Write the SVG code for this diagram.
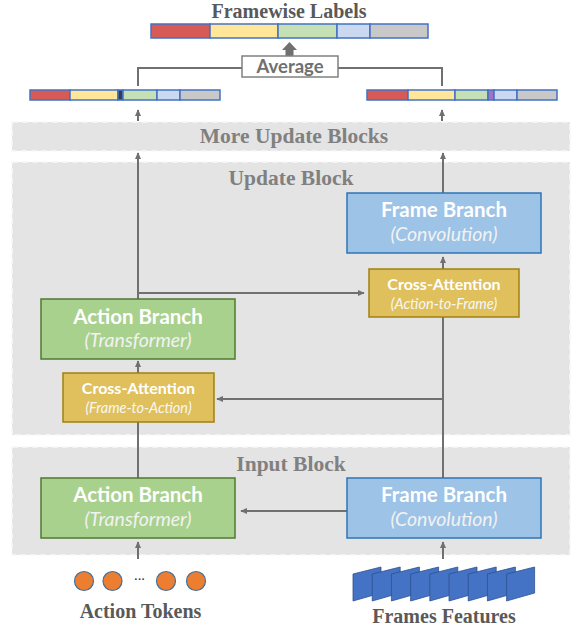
<svg xmlns="http://www.w3.org/2000/svg" width="572" height="628" viewBox="0 0 572 628">
<style>
.band{fill:#E4E4E4;stroke:#F7F7F7;stroke-width:1.5;stroke-dasharray:6 4}
.bt{font-family:"Liberation Serif",serif;font-weight:bold;font-size:21.5px;fill:#808080;text-anchor:middle}
.tt{font-family:"Liberation Serif",serif;font-weight:bold;font-size:20px;fill:#595959;text-anchor:middle}
.act{fill:#A9D18E;stroke:#4F7A30;stroke-width:1.5}
.frm{fill:#9DC3E6;stroke:#2E75B6;stroke-width:1.5}
.ca{fill:#DFC05C;stroke:#A08010;stroke-width:1.5}
.h1{font-family:Lato,"Open Sans",sans-serif;font-weight:bold;font-size:20.5px;fill:#FFFFFF;text-anchor:middle}
.h2{font-family:Lato,"Open Sans",sans-serif;font-style:italic;font-size:19.5px;fill:#F2F2F2;text-anchor:middle}
.c1{font-family:Lato,"Open Sans",sans-serif;font-weight:bold;font-size:16px;fill:#FFFFFF;text-anchor:middle}
.c2{font-family:Lato,"Open Sans",sans-serif;font-style:italic;font-size:14.5px;fill:#F7F7F7;text-anchor:middle}
.ln{fill:none;stroke:#707070;stroke-width:2}
.ar{fill:none;stroke:#707070;stroke-width:2;marker-end:url(#ah)}
.seg{stroke:#4472C4;stroke-width:1.5}
.tok{fill:#ED7D31;stroke:#41719C;stroke-width:1.2}
.ff{fill:#4472C4;stroke:#2F528F;stroke-width:0.8}
</style>
<defs>
<marker id="ah" viewBox="0 0 10 10" refX="9" refY="5" markerWidth="7" markerHeight="7" markerUnits="userSpaceOnUse" orient="auto">
<path d="M0,0.5 L10,5 L0,9.5 z" fill="#707070"/>
</marker>
</defs>

<!-- bands -->
<g id="band-more">
<rect class="band" x="12" y="122" width="558" height="29"/>
<text class="bt" x="294" y="143">More Update Blocks</text>
</g>
<g id="band-update">
<rect class="band" x="12" y="162" width="558" height="273"/>
<text class="bt" x="291" y="185">Update Block</text>
</g>
<g id="band-input">
<rect class="band" x="12" y="447" width="558" height="108"/>
<text class="bt" x="291" y="471">Input Block</text>
</g>

<!-- top labels -->
<g id="framewise-labels">
<text class="tt" x="289" y="18">Framewise Labels</text>
<rect class="seg" x="151" y="24" width="59" height="14" fill="#D65A56"/>
<rect class="seg" x="210" y="24" width="68" height="14" fill="#FFE699"/>
<rect class="seg" x="278" y="24" width="59" height="14" fill="#C5E0B4"/>
<rect class="seg" x="337" y="24" width="33" height="14" fill="#CAD8F0"/>
<rect class="seg" x="370" y="24" width="58" height="14" fill="#C8C8C8"/>
</g>
<g id="left-labels">
<rect class="seg" x="30" y="90" width="40" height="10" fill="#D65A56"/>
<rect class="seg" x="70" y="90" width="48" height="10" fill="#FFE699"/>
<rect class="seg" x="118" y="90" width="5" height="10" fill="#333F50"/>
<rect class="seg" x="123" y="90" width="34" height="10" fill="#C5E0B4"/>
<rect class="seg" x="157" y="90" width="23" height="10" fill="#CAD8F0"/>
<rect class="seg" x="180" y="90" width="40" height="10" fill="#C8C8C8"/>
</g>
<g id="right-labels">
<rect class="seg" x="367" y="90" width="41" height="10" fill="#D65A56"/>
<rect class="seg" x="408" y="90" width="47" height="10" fill="#FFE699"/>
<rect class="seg" x="455" y="90" width="33" height="10" fill="#C5E0B4"/>
<rect class="seg" x="488" y="90" width="6" height="10" fill="#A074C4"/>
<rect class="seg" x="494" y="90" width="23" height="10" fill="#CAD8F0"/>
<rect class="seg" x="517" y="90" width="40" height="10" fill="#C8C8C8"/>
</g>

<!-- connectors -->
<g id="connectors">
<path class="ln" d="M138,86 V68 H242 M338,68 H442 V86"/>
<path d="M285.5,56 V50 H282 L289.5,42 L297,50 H293.5 V56 z" fill="#707070"/>
<path class="ar" d="M138,121 V110"/>
<path class="ar" d="M442,121 V110"/>
<path class="ar" d="M138,299 V153"/>
<path class="ar" d="M443,193 V153"/>
<path class="ar" d="M138,293 H364"/>
<path class="ar" d="M443,269 V257"/>
<path class="ar" d="M138,373 V361"/>
<path class="ln" d="M138,478 V422"/>
<path class="ln" d="M443,478 V317"/>
<path class="ar" d="M443,399 H217"/>
<path class="ar" d="M347,511 H241"/>
<path class="ar" d="M138,559 V542"/>
<path class="ar" d="M443,559 V542"/>
</g>

<g id="average">
<rect x="242" y="56" width="96" height="21" fill="#FFFFFF" stroke="#808080" stroke-width="1.5"/>
<text x="290" y="73" font-family="Lato,'Open Sans',sans-serif" font-weight="bold" font-size="18.5" fill="#707070" text-anchor="middle">Average</text>
</g>

<!-- update block nodes -->
<g id="frame-branch-update">
<rect class="frm" x="347" y="193" width="194" height="60"/>
<text class="h1" x="444" y="217">Frame Branch</text>
<text class="h2" x="444" y="241">(Convolution)</text>
</g>
<g id="cross-attn-a2f">
<rect class="ca" x="369" y="269" width="150" height="48"/>
<text class="c1" x="444" y="290">Cross-Attention</text>
<text class="c2" x="444" y="309">(Action-to-Frame)</text>
</g>
<g id="action-branch-update">
<rect class="act" x="41" y="299" width="194" height="60"/>
<text class="h1" x="138" y="324">Action Branch</text>
<text class="h2" x="138" y="347">(Transformer)</text>
</g>
<g id="cross-attn-f2a">
<rect class="ca" x="63" y="373" width="151" height="49"/>
<text class="c1" x="138.5" y="394">Cross-Attention</text>
<text class="c2" x="138.5" y="413">(Frame-to-Action)</text>
</g>

<!-- input block nodes -->
<g id="action-branch-input">
<rect class="act" x="41" y="478" width="194" height="60"/>
<text class="h1" x="138" y="502">Action Branch</text>
<text class="h2" x="138" y="526">(Transformer)</text>
</g>
<g id="frame-branch-input">
<rect class="frm" x="347" y="478" width="194" height="60"/>
<text class="h1" x="444" y="502">Frame Branch</text>
<text class="h2" x="444" y="526">(Convolution)</text>
</g>

<!-- inputs -->
<g id="action-tokens">
<circle class="tok" cx="84" cy="581" r="9.5"/>
<circle class="tok" cx="112.5" cy="581" r="9.5"/>
<circle class="tok" cx="166" cy="581" r="9.5"/>
<circle class="tok" cx="196" cy="581" r="9.5"/>
<text x="139.5" y="583" font-family="'Liberation Serif',serif" font-size="11" font-weight="bold" fill="#333333" text-anchor="middle">···</text>
<text class="tt" x="140.5" y="618">Action Tokens</text>
</g>
<g id="frames-features">
<polygon class="ff" points="353,574 381,567 381,593 353,601"/>
<polygon class="ff" points="372.2,574 400.2,567 400.2,593 372.2,601"/>
<polygon class="ff" points="391.4,574 419.4,567 419.4,593 391.4,601"/>
<polygon class="ff" points="410.6,574 438.6,567 438.6,593 410.6,601"/>
<polygon class="ff" points="429.8,574 457.8,567 457.8,593 429.8,601"/>
<polygon class="ff" points="449,574 477,567 477,593 449,601"/>
<polygon class="ff" points="468.2,574 496.2,567 496.2,593 468.2,601"/>
<polygon class="ff" points="487.4,574 515.4,567 515.4,593 487.4,601"/>
<polygon class="ff" points="506.6,574 534.6,567 534.6,593 506.6,601"/>
<text class="tt" x="444" y="623">Frames Features</text>
</g>
</svg>
